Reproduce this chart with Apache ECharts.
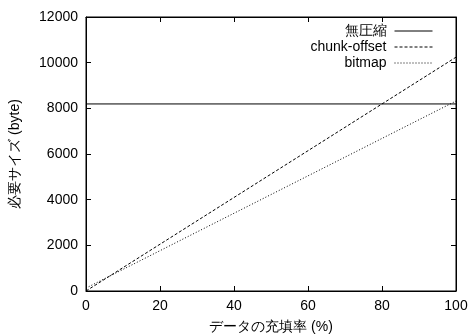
<!DOCTYPE html>
<html><head><meta charset="utf-8">
<script src="https://cdn.jsdelivr.net/npm/echarts@6/dist/echarts.min.js"></script>
<style>html,body{margin:0;padding:0;background:#fff}#c{width:469px;height:334px}</style>
</head><body><div id="c"></div>
<script>
const fillRate = [0, 10, 20, 30, 40, 50, 60, 70, 80, 90, 100];
const uncompressed = [8192, 8192, 8192, 8192, 8192, 8192, 8192, 8192, 8192, 8192, 8192];
const chunkOffset = [0, 1024, 2048, 3072, 4096, 5120, 6144, 7168, 8192, 9216, 10240];
const bitmap = [128, 947, 1766, 2586, 3405, 4224, 5043, 5862, 6682, 7501, 8320];
const seriesNames = ['無圧縮', 'chunk-offset', 'bitmap'];
const xTitle = 'データの充填率 (%)';
const yTitle = '必要サイズ (byte)';

const FONT = '"Liberation Sans", Arial, sans-serif';
const chart = echarts.init(document.getElementById('c'));
const pairs = a => a.map((v, i) => [fillRate[i], v]);
const tick = {show: true, inside: true, length: 5, lineStyle: {color: '#000'}};
const axLine = {show: true, onZero: false, lineStyle: {color: '#000', width: 1}};
const lbl = {color: '#000', fontFamily: FONT, fontSize: 14, formatter: v => String(v)};
const legendBase = {
  orient: 'vertical', right: 31, itemWidth: 38, itemHeight: 10, align: 'right', itemGap: 0,
  itemStyle: {opacity: 0}, lineStyle: {width: 1},
  textStyle: {color: '#000', fontFamily: FONT, fontSize: 14, padding: [0, 3, 0, 0]}
};
chart.setOption({
  animation: false,
  backgroundColor: '#fff',
  grid: {left: 86, right: 13, top: 17, bottom: 43, outerBoundsMode: 'none', containLabel: false,
         show: true, borderColor: '#000', borderWidth: 1, backgroundColor: 'transparent'},
  legend: [
    Object.assign({}, legendBase, {data: [seriesNames[0]], top: 19}),
    Object.assign({}, legendBase, {data: [seriesNames[1]], top: 35}),
    Object.assign({}, legendBase, {data: [seriesNames[2]], top: 51})
  ],
  xAxis: [
    {type: 'value', min: 0, max: 100, interval: 20, position: 'bottom',
     axisLine: axLine, axisTick: tick, splitLine: {show: false},
     axisLabel: Object.assign({margin: 8}, lbl),
     name: xTitle, nameLocation: 'middle', nameGap: 29,
     nameTextStyle: {color: '#000', fontFamily: FONT, fontSize: 14}},
    {type: 'value', min: 0, max: 100, interval: 20, position: 'top',
     axisLine: axLine, axisTick: tick, splitLine: {show: false}, axisLabel: {show: false}}
  ],
  yAxis: [
    {type: 'value', min: 0, max: 12000, interval: 2000, position: 'left',
     axisLine: axLine, axisTick: tick, splitLine: {show: false},
     axisLabel: Object.assign({margin: 8}, lbl),
     name: yTitle, nameLocation: 'middle', nameGap: 64, nameRotate: 90,
     nameTextStyle: {color: '#000', fontFamily: FONT, fontSize: 14}},
    {type: 'value', min: 0, max: 12000, interval: 2000, position: 'right',
     axisLine: axLine, axisTick: tick, splitLine: {show: false}, axisLabel: {show: false}}
  ],
  series: [
    {name: seriesNames[0], type: 'line', data: pairs(uncompressed), symbol: 'none',
     lineStyle: {color: '#000', width: 1, type: 'solid'}, itemStyle: {color: '#000'}},
    {name: seriesNames[1], type: 'line', data: pairs(chunkOffset), symbol: 'none',
     lineStyle: {color: '#000', width: 1, type: [3, 2]}, itemStyle: {color: '#000'}},
    {name: seriesNames[2], type: 'line', data: pairs(bitmap), symbol: 'none',
     lineStyle: {color: '#000', width: 1, type: [1, 2]}, itemStyle: {color: '#000'}},
    {name: '_mirror', type: 'line', data: [], xAxisIndex: 1, yAxisIndex: 1, symbol: 'none'}
  ]
});
</script></body></html>
